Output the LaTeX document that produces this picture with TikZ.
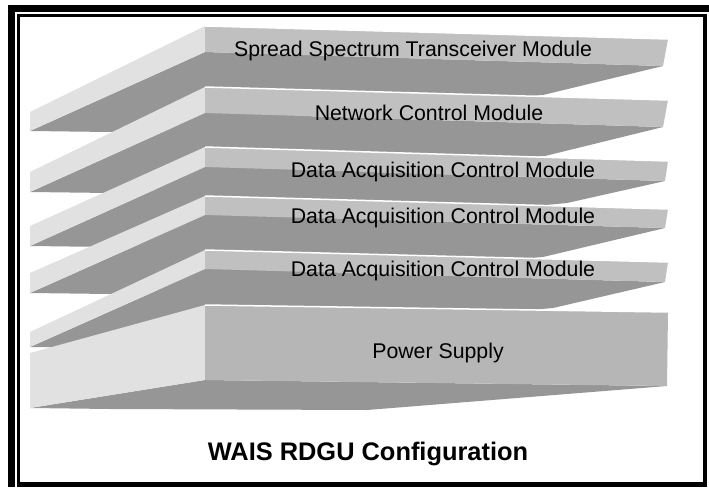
\documentclass[tikz,border=0pt]{standalone}
\usepackage{fontspec}
\setmainfont{Liberation Sans}
\usepackage{xcolor}
\usepackage{tikz}
\definecolor{side}{RGB}{225,225,225}
\definecolor{front}{RGB}{192,192,192}
\definecolor{psfront}{RGB}{182,182,182}
\definecolor{under}{RGB}{150,150,150}

\begin{document}
\begin{tikzpicture}[x=1pt, y=-1pt,
  lbl/.style={font=\fontsize{21.3}{24}\selectfont, anchor=base, inner sep=0pt},
  ttl/.style={font=\fontsize{25.4}{30}\selectfont\bfseries, anchor=base, inner sep=0pt},
  rim/.style={draw=white, line width=1.5pt}]
  \useasboundingbox (0,0) rectangle (709,487);
  % page and frame
  \fill[white] (0,0) rectangle (709,487);
  \fill[black] (8,5) rectangle (709,12);
  \fill[black] (8,5) rectangle (15,487);
  \fill[black] (17,14) rectangle (707,487);
  \fill[white] (20,17) rectangle (703,482);
  % slabs, top to bottom
  \foreach \t/\b/\tr/\br/\rx/\lt/\lb/\cx/\cy/\fc in {
      26/52/39/66/663/112/131/543/95/front,
      87/113/100/127/663/172/192/545/156/front,
      147/167/161/181/665/226/246/567/203/front,
      196/215/209/228/665/273/293/543/257/front,
      250/269/262/282/665/332/347/553/308/front,
      305/380/312/386/667/353/408/367/410/psfront}{
    \fill[under] (205,\b) -- (\rx,\br) -- (\cx,\cy) -- (110,\lb+1) -- (30,\lb) -- cycle;
    \fill[side] (205,\t) -- (30,\lt) -- (30,\lb) -- (205,\b) -- cycle;
    \fill[\fc] (205,\t) -- (668,\tr) -- (\rx,\br) -- (205,\b) -- cycle;
    \draw[rim] (205,\t) -- (668,\tr);
  }
  % labels
  \node[lbl] (sstm) at (413,56.7) {Spread Spectrum Transceiver Module};
  \node[lbl] (ncm) at (429,120) {Network Control Module};
  \node[lbl] (daq1) at (443,177) {Data Acquisition Control Module};
  \node[lbl] (daq2) at (443,223) {Data Acquisition Control Module};
  \node[lbl] (daq3) at (443,276) {Data Acquisition Control Module};
  \node[lbl] (psu) at (438,358) {Power Supply};
  \node[ttl] (title) at (368,460) {WAIS RDGU Configuration};
\end{tikzpicture}
\end{document}
